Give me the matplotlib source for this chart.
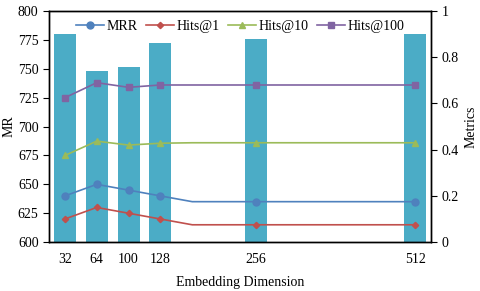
import matplotlib
matplotlib.use("Agg")
import matplotlib.pyplot as plt
import numpy as np

nan = np.nan

# category axis (blank slots keep the original spacing)
dims = ['32', '64', '100', '128', '', '', '256', '', '', '', '', '512']
mr = [780, 748, 752, 772, nan, nan, 776, nan, nan, nan, nan, 780]
mrr = [0.2, 0.25, 0.225, 0.2, 0.175, 0.175, 0.175, 0.175, 0.175, 0.175, 0.175, 0.175]
hits1 = [0.1, 0.15, 0.125, 0.1, 0.075, 0.075, 0.075, 0.075, 0.075, 0.075, 0.075, 0.075]
hits10 = [0.375, 0.437, 0.42, 0.428, 0.43, 0.43, 0.43, 0.43, 0.43, 0.43, 0.43, 0.43]
hits100 = [0.625, 0.69, 0.67, 0.68, 0.68, 0.68, 0.68, 0.68, 0.68, 0.68, 0.68, 0.68]

plt.rcParams['font.family'] = ['Liberation Serif', 'DejaVu Serif']
plt.rcParams['font.size'] = 10

x = np.arange(len(dims))
marked = [i for i, d in enumerate(dims) if d]

fig = plt.figure(figsize=(4.8, 2.91), dpi=100)
ax = fig.add_axes([0.102, 0.168, 0.796, 0.794])
ax.bar(x, mr, width=0.69, color='#4bacc6', bottom=0)
ax.set_ylim(600, 800)
ax.set_yticks(np.arange(600, 801, 25))
ax.set_xlim(-0.5, len(dims) - 0.5)
ax.set_xticks(marked)
ax.set_xticklabels([dims[i] for i in marked])
ax.tick_params(axis='x', length=0, pad=8)
ax.tick_params(axis='y', direction='out', length=4)
ax.set_ylabel('MR')
ax.yaxis.set_label_coords(-0.087, 0.5)
ax.set_xlabel('Embedding Dimension', labelpad=7)

ax2 = ax.twinx()
ax2.set_ylim(0, 1)
ax2.set_yticks([0, 0.2, 0.4, 0.6, 0.8, 1])
ax2.set_yticklabels(['0', '0.2', '0.4', '0.6', '0.8', '1'])
ax2.tick_params(axis='y', direction='out', length=4)
ax2.set_ylabel('Metrics')
ax2.yaxis.set_label_coords(1.088, 0.5)

series = [
    ('MRR', mrr, '#4f81bd', 'o', 5),
    ('Hits@1', hits1, '#c0504d', 'D', 3.2),
    ('Hits@10', hits10, '#9bbb59', '^', 4.5),
    ('Hits@100', hits100, '#8064a2', 's', 4),
]
for name, vals, col, mk, ms in series:
    ax2.plot(x, vals, color=col, lw=1.2, marker=mk, ms=ms, markevery=marked, label=name)

ax2.legend(loc='upper center', ncol=4, frameon=False, bbox_to_anchor=(0.5, 1.015),
           handlelength=2.0, columnspacing=0.6, handletextpad=0.2, fontsize=10)

for a in (ax, ax2):
    for s in a.spines.values():
        s.set_linewidth(1.0)

fig.savefig('out.png', dpi=100)
